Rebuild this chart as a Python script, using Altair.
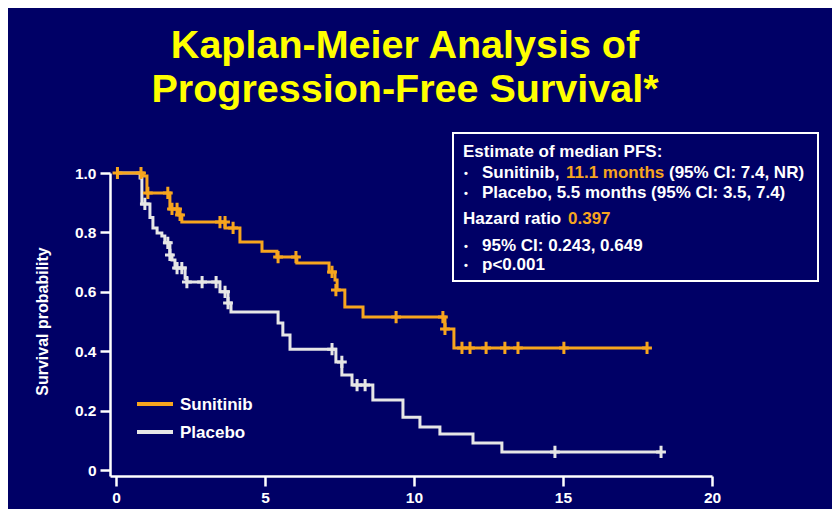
import altair as alt
import pandas as pd

# ---------------- data ----------------
TITLE_LINES = ["Kaplan-Meier Analysis of", "Progression-Free Survival*"]
SERIES = ["Sunitinib", "Placebo"]
X_TICKS = [0, 5, 10, 15, 20]
Y_TICKS = [0, 0.2, 0.4, 0.6, 0.8, 1.0]
Y_TITLE = "Survival probability"

# Kaplan-Meier step points (time in months, survival after the step)
sun_step_t = [0, 0.91, 1.04, 1.81, 2.11, 2.21, 3.66, 4.16, 4.90, 5.40, 6.07, 7.15,
              7.35, 7.42, 7.68, 8.29, 11.04, 11.34, 17.82]
sun_step_s = [1.0, 0.99, 0.933, 0.879, 0.859, 0.835, 0.815, 0.768, 0.737, 0.717, 0.697,
              0.667, 0.64, 0.606, 0.549, 0.515, 0.475, 0.411, 0.411]

pla_step_t = [0, 0.81, 0.87, 1.14, 1.24, 1.38, 1.54, 1.64, 1.81, 1.88, 1.98, 2.32, 2.38,
              3.49, 3.76, 3.86, 5.44, 5.60, 5.84, 7.38, 7.58, 7.92, 8.62, 9.63, 10.20,
              10.87, 11.98, 12.95, 18.29]
pla_step_s = [1.0, 0.983, 0.896, 0.85, 0.815, 0.798, 0.788, 0.765, 0.724, 0.707, 0.68,
              0.646, 0.633, 0.60, 0.562, 0.532, 0.495, 0.455, 0.407, 0.364, 0.32, 0.286,
              0.236, 0.178, 0.145, 0.121, 0.091, 0.061, 0.061]

# censored observations
sun_cens_t = [0.05, 0.84, 1.07, 1.74, 1.88, 2.05, 2.15, 3.49, 3.66, 3.93, 5.44, 6.04,
              7.25, 7.38, 9.40, 10.97, 11.04, 11.61, 11.88, 12.42, 13.05, 13.49, 15.03, 17.82]
sun_cens_s = [1.0, 1.0, 0.933, 0.933, 0.879, 0.879, 0.859, 0.835, 0.835, 0.815, 0.717,
              0.717, 0.667, 0.606, 0.515, 0.515, 0.475, 0.411, 0.411, 0.411, 0.411,
              0.411, 0.411, 0.411]

pla_cens_t = [0.97, 1.74, 1.81, 2.05, 2.21, 2.38, 2.89, 3.36, 3.66, 3.76, 7.25, 7.58,
              8.09, 8.36, 14.73, 18.29]
pla_cens_s = [0.896, 0.765, 0.724, 0.68, 0.68, 0.633, 0.633, 0.633, 0.60, 0.562, 0.407,
              0.364, 0.286, 0.286, 0.061, 0.061]

BOX_HEAD = "Estimate of median PFS:"
SUN_TXT = ["Sunitinib, ", "11.1 months", "(95% CI: 7.4, NR)"]
PLA_TXT = "Placebo, 5.5 months (95% CI: 3.5, 7.4)"
HR_TXT = ["Hazard ratio ", "0.397"]
CI_TXT = "95% CI: 0.243, 0.649"
P_TXT = "p<0.001"

# ---------------- style ----------------
NAVY = "#000066"
ORANGE = "#F7A51E"
LIGHT = "#E6E6E6"
YELLOW = "#FFFF00"
FONT = "Liberation Sans"
PLUS = "M-0.8,0H0.8M0,-1V1"
BOX_FS = 17

steps = pd.concat([
    pd.DataFrame({"t": pla_step_t, "s": pla_step_s, "series": "Placebo"}),
    pd.DataFrame({"t": sun_step_t, "s": sun_step_s, "series": "Sunitinib"}),
])
cens = pd.concat([
    pd.DataFrame({"t": pla_cens_t, "s": pla_cens_s, "series": "Placebo"}),
    pd.DataFrame({"t": sun_cens_t, "s": sun_cens_s, "series": "Sunitinib"}),
])

xs = alt.Scale(domain=[-0.2, 20], nice=False, zero=False)
ys = alt.Scale(domain=[-0.02, 1.0], nice=False, zero=False)
cs = alt.Scale(domain=SERIES, range=[ORANGE, LIGHT])

X = alt.X("t:Q", scale=xs, axis=alt.Axis(values=X_TICKS, title=None, labelFlush=False))
Y = alt.Y("s:Q", scale=ys, axis=alt.Axis(
    values=Y_TICKS, title=Y_TITLE,
    labelExpr="datum.value == 0 ? '0' : format(datum.value, '.1f')",
    titleX=-63, titleY=148, titleBaseline="alphabetic", titleAlign="center"))

lines = alt.Chart(steps).mark_line(interpolate="step-after", strokeWidth=3).encode(
    x=X, y=Y, color=alt.Color("series:N", scale=cs, legend=None),
    detail="series:N")

points = alt.Chart(cens).mark_point(shape=PLUS, filled=False, strokeWidth=3,
                                    size=150, opacity=1).encode(
    x="t:Q", y="s:Q", color=alt.Color("series:N", scale=cs, legend=None))

one = alt.Data(values=[{}])


def txt(text, x, y, color="white", size=BOX_FS, align="left"):
    return alt.Chart(one).mark_text(text=text, color=color, font=FONT, fontSize=size,
                                    fontWeight="bold", align=align,
                                    baseline="alphabetic").encode(
        x=alt.value(x), y=alt.value(y))


box = alt.Chart(one).mark_rect(fillOpacity=0, stroke="white", strokeWidth=2).encode(
    x=alt.value(343), x2=alt.value(708), y=alt.value(-40), y2=alt.value(108))

layers = [lines, points, box,
          txt(BOX_HEAD, 353, -16),
          txt("•", 356, 4, size=11, align="center"),
          txt(SUN_TXT[0], 372, 5),
          txt(SUN_TXT[1], 456, 5, color=ORANGE),
          txt(SUN_TXT[2], 559, 5),
          txt("•", 356, 24, size=11, align="center"),
          txt(PLA_TXT, 372, 25),
          txt(HR_TXT[0], 353, 51),
          txt(HR_TXT[1], 458, 51, color=ORANGE),
          txt("•", 356, 77, size=11, align="center"),
          txt(CI_TXT, 372, 78),
          txt("•", 356, 96, size=11, align="center"),
          txt(P_TXT, 372, 97),
          ]

# legend
leg_y = [231, 259]
leg_col = [ORANGE, LIGHT]
for name, yy, col in zip(SERIES, leg_y, leg_col):
    layers.append(alt.Chart(one).mark_rule(color=col, strokeWidth=4).encode(
        x=alt.value(27), x2=alt.value(63), y=alt.value(yy)))
    layers.append(txt(name, 70, yy + 6))

# title
layers.append(txt(TITLE_LINES[0], 295, -115, color=YELLOW, size=39.5, align="center"))
layers.append(txt(TITLE_LINES[1], 295, -71, color=YELLOW, size=39.5, align="center"))

chart = alt.layer(*layers).properties(
    width=602, height=303, background=NAVY,
    padding={"left": 102, "top": 165, "right": 120, "bottom": 33},
    autosize=alt.AutoSizeParams(type="none"),
).configure_view(stroke=None).configure_axis(
    domainColor="white", domainWidth=2.5, tickColor="white", tickWidth=2.5, tickSize=10,
    labelColor="white", labelFont=FONT, labelFontSize=15.5, labelFontWeight="bold",
    labelPadding=4, grid=False, titleColor="white", titleFont=FONT, titleFontSize=16,
    titleFontWeight="bold")

chart.save("out.html", embed_options={"renderer": "svg", "actions": False})
